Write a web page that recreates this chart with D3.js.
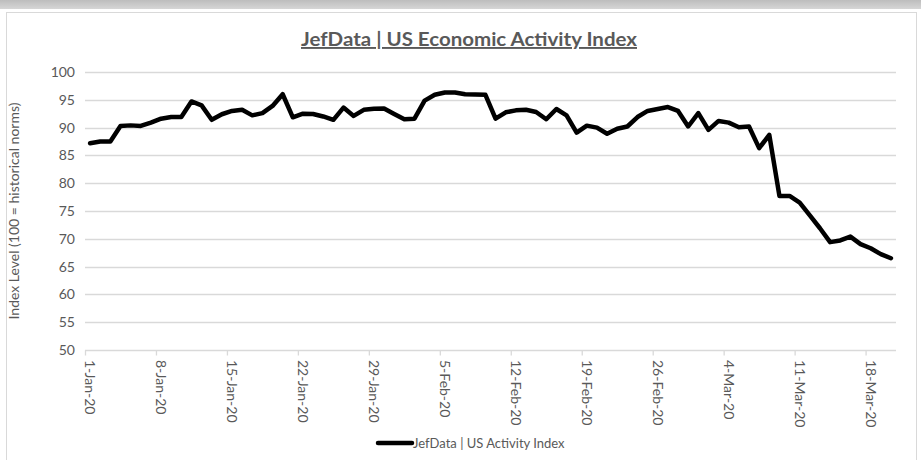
<!DOCTYPE html>
<html>
<head>
<meta charset="utf-8">
<script src="https://cdn.jsdelivr.net/npm/d3@7"></script>
<style>
  body { margin: 0; background: #fff; }
  svg { display: block; }
</style>
</head>
<body>
<div id="chart"></div>
<script>
// daily readings, 1-Jan-20 .. 20-Mar-20
let startDay = '2020-01-01'
let endDay = '2020-03-21'
let activity = [
  87.2, 87.5, 87.5, 90.3, 90.4, 90.3, 90.9, 91.6, 91.9, 91.9,
  94.7, 94.0, 91.4, 92.4, 93.0, 93.2, 92.2, 92.6, 93.9, 96.0,
  91.85, 92.5, 92.45, 92.0, 91.4, 93.6, 92.1, 93.2, 93.4, 93.45,
  92.45, 91.5, 91.6, 94.85, 95.9, 96.3, 96.3, 96.0, 95.95, 95.9,
  91.6, 92.75, 93.1, 93.2, 92.8, 91.5, 93.35, 92.2, 89.1, 90.35,
  90.0, 88.9, 89.8, 90.2, 91.9, 93.0, 93.35, 93.7, 93.0, 90.2,
  92.6, 89.6, 91.2, 90.9, 90.05, 90.2, 86.3, 88.7, 77.7, 77.7,
  76.5, 74.2, 71.9, 69.4, 69.7, 70.4, 69.05, 68.3, 67.25, 66.5
]
let tickLabels = [
  '1-Jan-20', '8-Jan-20', '15-Jan-20', '22-Jan-20', '29-Jan-20', '5-Feb-20',
  '12-Feb-20', '19-Feb-20', '26-Feb-20', '4-Mar-20', '11-Mar-20', '18-Mar-20'
]
let yTicks = [50, 55, 60, 65, 70, 75, 80, 85, 90, 95, 100]
let chartTitle = 'JefData | US Economic Activity Index'
let seriesName = 'JefData | US Activity Index'
let yTitle = 'Index Level (100 = historical norms)'

let width = 921
let height = 460
let plotLeft = 85
let plotRight = 896
let plotTop = 72
let plotBottom = 350
let textColor = '#595959'
let gridColor = '#d9d9d9'
let fontFamily = 'Lato, "Open Sans", sans-serif'

let parseDay = d3.utcParse('%Y-%m-%d')
let parseTick = d3.utcParse('%d-%b-%y')
let days = d3.utcDay.range(parseDay(startDay), parseDay(endDay))
let data = days.map((d, i) => ({ date: d, value: activity[i] }))

let svg = d3.select('#chart')
  .append('svg')
  .attr('width', width)
  .attr('height', height)

// page strip above the chart
let grad = svg.append('defs')
  .append('linearGradient')
  .attr('id', 'strip')
  .attr('x1', 0).attr('x2', 0).attr('y1', 0).attr('y2', 1)
grad.append('stop').attr('offset', 0).attr('stop-color', '#bdbdbd')
grad.append('stop').attr('offset', 1).attr('stop-color', '#d6d6d6')
svg.append('rect')
  .attr('x', 0).attr('y', 0)
  .attr('width', width).attr('height', 9)
  .attr('fill', 'url(#strip)')

svg.append('rect')
  .attr('x', 6.5).attr('y', 12.5)
  .attr('width', 910).attr('height', 460)
  .attr('fill', '#fff')
  .attr('stroke', gridColor)

let x = d3.scaleUtc()
  .domain([parseDay(startDay), parseDay(endDay)])
  .range([plotLeft, plotRight])

let y = d3.scaleLinear()
  .domain([50, 100])
  .range([plotBottom, plotTop])

// gridlines
svg.append('g')
  .selectAll('line')
  .data(yTicks)
  .enter()
  .append('line')
  .attr('x1', plotLeft)
  .attr('x2', plotRight)
  .attr('y1', d => Math.round(y(d)) + 0.5)
  .attr('y2', d => Math.round(y(d)) + 0.5)
  .attr('stroke', gridColor)
  .attr('stroke-width', 1.3)

// y axis labels
svg.append('g')
  .selectAll('text')
  .data(yTicks)
  .enter()
  .append('text')
  .attr('x', plotLeft - 10)
  .attr('y', d => y(d))
  .attr('dy', '0.35em')
  .attr('text-anchor', 'end')
  .attr('fill', textColor)
  .style('font', '14px ' + fontFamily)
  .text(d => d)

// x axis: tick marks at week starts, labels centred on the day
let tickDates = tickLabels.map(parseTick)
let xAxis = svg.append('g')
  .attr('transform', 'translate(0,' + (Math.round(plotBottom) + 0.5) + ')')
  .call(d3.axisBottom(x).tickValues(tickDates).tickSize(5).tickFormat(''))
xAxis.select('.domain').remove()
xAxis.selectAll('.tick line').attr('stroke', gridColor).attr('stroke-width', 1.3)

svg.append('g')
  .selectAll('text')
  .data(tickDates)
  .enter()
  .append('text')
  .attr('transform', d => 'translate(' + x(d3.utcHour.offset(d, 12)) + ',' + (plotBottom + 10) + ')rotate(90)')
  .attr('dy', '0.35em')
  .attr('fill', textColor)
  .style('font', '14px ' + fontFamily)
  .text((d, i) => tickLabels[i])

// y title
svg.append('text')
  .attr('transform', 'translate(14,' + (plotTop + plotBottom) / 2 + ')rotate(-90)')
  .attr('text-anchor', 'middle')
  .attr('dy', '0.35em')
  .attr('fill', textColor)
  .style('font', '14px ' + fontFamily)
  .text(yTitle)

// chart title
svg.append('text')
  .attr('x', 469)
  .attr('y', 46)
  .attr('text-anchor', 'middle')
  .attr('fill', textColor)
  .attr('textLength', 336)
  .attr('lengthAdjust', 'spacingAndGlyphs')
  .style('font', 'bold 19px ' + fontFamily)
  .style('text-decoration', 'underline')
  .text(chartTitle)

// series line
let line = d3.line()
  .x(d => x(d3.utcHour.offset(d.date, 12)))
  .y(d => y(d.value))

svg.append('path')
  .datum(data)
  .attr('d', line)
  .attr('fill', 'none')
  .attr('stroke', '#000')
  .attr('stroke-width', 4.5)
  .attr('stroke-linejoin', 'round')
  .attr('stroke-linecap', 'round')

// legend
let legend = svg.append('g').attr('transform', 'translate(378,443)')
legend.append('line')
  .attr('x1', 0).attr('x2', 34)
  .attr('stroke', '#000')
  .attr('stroke-width', 4.5)
  .attr('stroke-linecap', 'round')
legend.append('text')
  .attr('x', 35)
  .attr('dy', '0.35em')
  .attr('fill', textColor)
  .style('font', '13px ' + fontFamily)
  .text(seriesName)
</script>
</body>
</html>
